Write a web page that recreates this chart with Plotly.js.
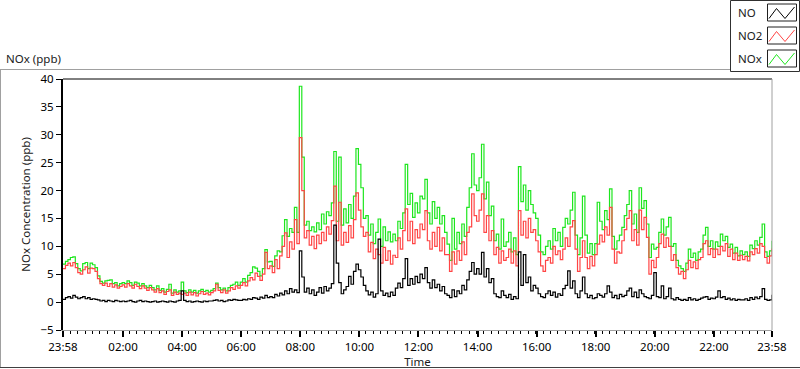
<!DOCTYPE html>
<html>
<head>
<meta charset="utf-8">
<script src="https://cdn.plot.ly/plotly-3.0.1.min.js"></script>
<style>html,body{margin:0;padding:0;background:#fff;}#chart{width:800px;height:369px;}</style>
</head>
<body>
<div id="chart"></div>
<script>
// ---- Data (5-minute samples, starting 23:58) ----
const START_DAY = '2024-01-01';
const NEXT_DAY = '2024-01-02';
const START_MIN = 23 * 60 + 58;   // 23:58
const STEP_MIN = 5;

const NO2 = [
  6.0, 6.6, 7.0, 6.5, 7.1, 6.2, 5.3, 5.0, 5.8, 6.3, 5.2, 6.1,
  6.0, 5.5, 4.2, 3.3, 3.0, 3.4, 2.8, 3.3, 2.7, 3.1, 2.5, 2.8,
  3.1, 2.7, 3.3, 2.9, 2.5, 3.2, 2.8, 2.4, 2.9, 2.5, 2.1, 2.6,
  2.2, 1.8, 2.4, 1.7, 2.0, 1.4, 1.9, 2.2, 1.2, 1.8, 1.4, 1.6,
  1.4, 1.6, 1.2, 1.8, 1.3, 1.7, 1.1, 1.5, 1.9, 1.4, 1.6, 1.3,
  1.7, 2.0, 3.2, 2.1, 1.7, 2.2, 1.6, 2.0, 2.6, 2.3, 2.9, 2.5,
  3.0, 3.5, 2.9, 3.8, 4.4, 4.0, 5.2, 4.6, 3.9, 5.0, 8.9, 6.0,
  6.5, 5.3, 7.6, 6.0, 8.3, 10.0, 12.4, 8.0, 10.8, 9.5, 14.8, 10.5,
  29.5, 20.0, 11.5, 12.8, 10.2, 11.8, 9.6, 12.0, 10.5, 12.5, 11.0, 13.5,
  12.2, 14.6, 20.8, 11.0, 17.9, 10.2, 12.5, 10.7, 13.7, 11.5, 14.8, 19.6,
  16.5, 13.5, 11.8, 12.5, 9.0, 10.7, 7.8, 9.5, 8.5, 7.0, 9.8, 7.5,
  9.2, 6.8, 8.4, 8.0, 11.5, 9.5, 12.8, 16.7, 11.0, 14.5, 10.5, 13.0,
  11.5, 14.0, 13.0, 16.4, 11.0, 9.5, 12.5, 10.0, 13.4, 9.2, 11.5, 8.5,
  8.5, 5.5, 9.0, 6.8, 9.2, 7.5, 10.8, 8.5, 12.5, 13.5, 19.4, 15.5,
  14.5, 16.5, 19.4, 12.5, 15.5, 11.0, 12.8, 8.5, 9.8, 7.0, 9.2, 7.5,
  8.0, 9.5, 7.0, 9.2, 6.5, 16.4, 12.0, 14.5, 11.5, 15.0, 12.5, 13.0,
  11.0, 9.0, 6.5, 5.5, 7.5, 8.0, 7.0, 10.0, 8.5, 9.2, 7.6, 9.5,
  11.5, 10.0, 13.5, 14.6, 9.5, 5.5, 8.0, 11.0, 8.0, 6.0, 8.2, 6.5,
  8.5, 10.4, 12.0, 10.8, 13.5, 12.0, 17.0, 9.5, 7.0, 9.0, 8.8, 11.0,
  13.0, 15.0, 16.4, 11.0, 13.0, 10.2, 16.5, 13.0, 15.2, 11.6, 5.0, 7.5,
  6.2, 8.0, 10.5, 12.2, 9.8, 11.5, 10.0, 7.5, 8.5, 6.2, 5.0, 5.5,
  4.2, 5.8, 7.5, 6.2, 7.2, 6.0, 7.6, 8.0, 10.5, 11.0, 8.5, 9.6,
  8.0, 9.5, 8.5, 10.0, 9.2, 10.5, 8.2, 9.5, 7.6, 8.8, 7.5, 8.4,
  7.6, 8.2, 7.4, 9.0, 8.5, 9.6, 8.8, 10.5, 10.0, 8.0, 7.0, 8.3, 9.6
];

const NOX = [
  6.8, 7.3, 7.6, 8.0, 8.1, 6.9, 6.0, 5.6, 6.9, 7.1, 6.0, 7.0,
  6.7, 6.2, 4.7, 3.7, 3.4, 3.8, 3.9, 4.0, 3.3, 3.5, 2.9, 3.3,
  3.5, 3.3, 3.8, 3.5, 3.0, 3.6, 3.4, 2.9, 3.3, 2.9, 2.6, 3.0,
  2.6, 2.2, 2.9, 2.1, 2.4, 1.8, 2.3, 3.2, 1.6, 2.2, 1.8, 2.0,
  3.6, 2.0, 1.7, 2.2, 1.8, 2.1, 1.6, 2.0, 2.3, 1.9, 2.1, 1.8,
  2.1, 2.4, 3.4, 2.6, 2.2, 2.5, 2.0, 2.6, 3.0, 3.2, 3.6, 3.0,
  3.6, 4.2, 3.6, 4.8, 5.3, 6.3, 6.1, 5.5, 4.7, 6.0, 9.4, 7.2,
  7.3, 6.4, 8.3, 9.2, 9.0, 11.9, 14.8, 11.8, 13.2, 12.5, 17.0, 12.5,
  38.7, 26.0, 13.8, 14.5, 12.8, 13.5, 12.6, 14.2, 13.0, 15.8, 14.0, 16.2,
  15.5, 17.8, 27.0, 14.5, 26.0, 13.8, 16.7, 14.2, 17.5, 15.0, 19.0, 27.5,
  24.7, 20.5, 15.0, 15.5, 12.0, 14.0, 10.5, 12.5, 14.9, 10.0, 13.5, 11.0,
  12.6, 10.8, 12.2, 11.0, 14.5, 13.2, 16.0, 24.7, 17.5, 19.5, 15.2, 17.8,
  16.0, 19.0, 18.5, 22.0, 16.0, 14.0, 18.0, 15.0, 17.0, 14.0, 15.5, 12.5,
  10.4, 7.5, 15.0, 9.5, 12.5, 10.5, 14.0, 11.8, 17.0, 20.5, 26.6, 21.0,
  20.0, 22.3, 28.3, 18.5, 21.5, 15.5, 17.2, 11.0, 12.2, 9.5, 14.9, 10.0,
  10.8, 12.5, 9.0, 11.5, 8.5, 24.3, 18.0, 21.0, 16.5, 20.0, 17.5, 16.0,
  15.0, 12.0, 9.0, 8.5, 10.0, 11.0, 9.5, 13.2, 11.0, 12.5, 10.0, 13.4,
  15.0, 14.0, 16.5, 19.7, 12.0, 8.5, 11.5, 19.0, 12.0, 8.8, 10.5, 8.5,
  10.5, 17.9, 14.5, 13.0, 16.4, 14.8, 20.3, 11.8, 9.5, 11.0, 12.0, 13.4,
  15.5, 17.5, 20.0, 14.0, 15.8, 12.5, 20.5, 16.8, 18.2, 14.0, 8.0, 10.4,
  9.5, 9.8, 12.5, 14.9, 12.0, 13.5, 15.2, 10.0, 10.5, 7.5, 6.5, 6.0,
  5.5, 7.0, 9.5, 8.0, 8.8, 7.5, 9.0, 9.5, 12.0, 13.4, 10.0, 11.0,
  9.5, 10.8, 10.0, 12.2, 11.0, 11.8, 9.8, 10.4, 8.8, 9.8, 8.3, 9.2,
  8.5, 9.0, 8.2, 10.2, 9.6, 11.0, 10.2, 11.6, 14.0, 9.0, 8.2, 9.2, 11.0
];

const NO = [
  0.5, 0.8, 1.0, 0.7, 1.2, 0.9, 0.6, 0.8, 1.0, 0.6, 0.8, 0.5,
  0.6, 0.5, 0.4, 0.2, 0.3, 0.1, 0.3, 0.2, 0.1, 0.3, 0.2, 0.1,
  0.2, 0.1, 0.2, 0.3, 0.1, 0.0, 0.2, 0.3, 0.1, 0.2, 0.1, 0.0,
  0.1, 0.2, 0.0, 0.1, 0.2, 0.1, 0.0, 0.2, 0.1, 0.0, 0.2, 0.3,
  2.0, 0.3, 0.1, 0.2, 0.0, 0.1, 0.2, 0.1, 0.0, 0.2, 0.1, 0.2,
  0.2, 0.3, 0.4, 0.2, 0.3, 0.1, 0.2, 0.4, 0.3, 0.5, 0.4, 0.3,
  0.3, 0.5, 0.4, 0.6, 0.5, 0.8, 0.7, 0.5, 0.9, 0.7, 1.2, 0.8,
  1.0, 0.8, 1.4, 1.1, 1.6, 1.3, 2.0, 1.5, 2.4, 1.8, 2.2, 1.7,
  9.2, 4.5, 1.8, 2.5, 1.5, 2.2, 1.2, 1.8, 2.6, 1.6, 2.8, 2.0,
  2.5, 3.3, 13.8, 7.0, 3.5, 1.5, 2.2, 2.8, 4.6, 3.2, 5.5, 6.8,
  5.8, 4.5, 3.0, 2.0, 1.3, 1.8, 0.9, 1.5, 11.3, 2.0, 1.2, 1.6,
  1.0, 1.8, 1.2, 2.5, 3.4, 2.6, 4.2, 7.8, 3.0, 4.2, 3.2, 4.6,
  3.5, 5.0, 4.2, 6.2, 3.5, 2.5, 4.0, 2.6, 3.2, 2.0, 2.8, 1.5,
  1.2, 0.8, 2.2, 1.0, 2.0, 1.5, 3.0, 2.2, 4.0, 5.5, 7.1, 5.0,
  6.0, 5.0, 8.9, 4.5, 6.0, 3.5, 4.2, 1.5, 1.0, 0.8, 2.0, 1.2,
  0.8, 1.4, 0.5, 1.0, 0.6, 9.0, 3.0, 8.5, 3.5, 4.5, 2.0, 3.0,
  2.5, 1.5, 1.0, 0.8, 1.5, 2.0, 1.2, 1.8, 0.9, 1.5, 1.2, 2.4,
  3.0, 5.6, 2.5, 3.8, 1.5, 0.8, 2.0, 4.5, 1.5, 0.8, 1.2, 0.6,
  0.8, 1.5, 1.2, 0.9, 1.5, 2.9, 1.8, 0.8, 1.2, 0.6, 1.4, 1.0,
  1.2, 2.0, 2.5, 1.0, 1.8, 0.8, 2.2, 1.5, 1.0, 0.8, 0.6, 1.2,
  5.3, 1.0, 0.8, 2.9, 0.6, 1.0, 2.5, 0.6, 0.4, 0.8, 0.5, 0.3,
  0.5, 0.3, 0.8, 0.4, 0.6, 0.3, 0.5, 0.7, 0.9, 1.0, 0.5, 0.7,
  0.6, 0.9, 2.0, 0.8, 1.0, 0.5, 0.7, 0.4, 0.6, 0.3, 0.5, 0.4,
  0.4, 0.6, 0.3, 0.8, 0.5, 0.9, 0.6, 1.0, 2.4, 0.5, 0.3, 0.4, 1.3
];

const TICK_TEXT = ['23:58', '02:00', '04:00', '06:00', '08:00', '10:00', '12:00',
                   '14:00', '16:00', '18:00', '20:00', '22:00', '23:58'];
const SERIES_NAMES = ['NO', 'NO2', 'NOx'];
const SERIES_COLORS = ['#000000', '#FF4545', '#1EE61E'];

// ---- helpers ----
function pad(n) { return (n < 10 ? '0' : '') + n; }
function stamp(totalMin) {          // minutes from midnight of START_DAY
  const day = totalMin >= 1440 ? NEXT_DAY : START_DAY;
  const m = totalMin % 1440;
  return day + ' ' + pad(Math.floor(m / 60)) + ':' + pad(m % 60);
}
const X = NO.map((_, i) => stamp(START_MIN + i * STEP_MIN));

const tickvals = TICK_TEXT.map((t, k) => (k === 0 ? START_DAY : NEXT_DAY) + ' ' + t);
const minorVals = [];
for (let k = 1; k < 96; k++) minorVals.push(stamp(START_MIN + k * 15));

// pixel -> paper conversion (plot area: x 63..772, y 79..330)
const L = 63, R = 772, T = 79, B = 330;
const px = x => (x - L) / (R - L);
const py = y => (B - y) / (B - T);

const FONT = 'Noto Sans, DejaVu Sans, sans-serif';

const traces = [
  {x: X, y: NOX, name: 'NOx', type: 'scatter', mode: 'lines',
   line: {color: SERIES_COLORS[2], width: 1.2, shape: 'hv'}, showlegend: false},
  {x: X, y: NO2, name: 'NO2', type: 'scatter', mode: 'lines',
   line: {color: SERIES_COLORS[1], width: 1.2, shape: 'hv'}, showlegend: false},
  {x: X, y: NO, name: 'NO', type: 'scatter', mode: 'lines',
   line: {color: SERIES_COLORS[0], width: 1.2, shape: 'hv'}, showlegend: false}
];

const shapes = [];
const annotations = [];
function hline(x0, x1, y, color, w) {
  shapes.push({type: 'line', xref: 'paper', yref: 'paper', x0: px(x0), x1: px(x1), y0: py(y), y1: py(y),
               line: {color: color, width: w || 1}});
}
function vline(x, y0, y1, color, w) {
  shapes.push({type: 'line', xref: 'paper', yref: 'paper', x0: px(x), x1: px(x), y0: py(y0), y1: py(y1),
               line: {color: color, width: w || 1}});
}
// outer frame
hline(0, 731, 69.5, '#A0A0A0');
vline(0.5, 69, 367, '#A0A0A0');
hline(0, 800, 367.5, '#404040');
// plot border: top black, right gray
hline(L, R, T, '#000000');
vline(R, T, B, '#A0A0A0');

// legend box
shapes.push({type: 'rect', xref: 'paper', yref: 'paper', x0: px(730.5), x1: px(799.5), y0: py(0.5), y1: py(71.5),
             line: {color: '#303030', width: 1}, fillcolor: '#FFFFFF'});
const legendRows = [12.5, 35.5, 58.5];
SERIES_NAMES.forEach((name, k) => {
  const cy = legendRows[k];
  annotations.push({xref: 'paper', yref: 'paper', x: px(736), y: py(cy), xanchor: 'left', yanchor: 'middle',
                    text: name, showarrow: false, font: {family: FONT, size: 11.5, color: '#1a1a1a'}});
  shapes.push({type: 'rect', xref: 'paper', yref: 'paper', x0: px(767.5), x1: px(796.5), y0: py(cy - 8.5), y1: py(cy + 8.5),
               line: {color: '#202020', width: 1}, fillcolor: '#FFFFFF'});
  const pts = [[769, cy + 6], [776.5, cy - 4], [785, cy + 6], [794.5, cy - 5.5]];
  const path = pts.map((p, j) => (j ? 'L' : 'M') + px(p[0]) + ',' + py(p[1])).join(' ');
  shapes.push({type: 'path', xref: 'paper', yref: 'paper', path: path,
               line: {color: SERIES_COLORS[k], width: 1}});
});

annotations.push({xref: 'paper', yref: 'paper', x: px(4), y: py(58), xanchor: 'left', yanchor: 'middle',
                  text: 'NOx (ppb)', showarrow: false, font: {family: FONT, size: 11.5, color: '#1a1a1a'}});

const layout = {
  width: 800, height: 369,
  margin: {l: L, r: 800 - R, t: T, b: 369 - B, pad: 0},
  paper_bgcolor: '#FFFFFF', plot_bgcolor: '#FFFFFF',
  font: {family: FONT, size: 11.5, color: '#000000'},
  showlegend: false,
  xaxis: {
    type: 'date',
    range: [tickvals[0], tickvals[tickvals.length - 1]],
    tickmode: 'array', tickvals: tickvals, ticktext: TICK_TEXT,
    ticks: 'outside', ticklen: 6, tickwidth: 2, tickcolor: '#000000',
    minor: {tickmode: 'array', tickvals: minorVals, ticks: 'outside', ticklen: 3, tickwidth: 1, tickcolor: '#000000', showgrid: false},
    showgrid: false, zeroline: false,
    showline: true, linecolor: '#A0A0A0', linewidth: 1,
    tickfont: {family: FONT, size: 11.5, color: '#000000'},
    title: {text: 'Time', font: {family: FONT, size: 11.5, color: '#1a1a1a'}, standoff: 2}
  },
  yaxis: {
    range: [-5, 40], tickmode: 'linear', tick0: -5, dtick: 5,
    ticks: 'outside', ticklen: 5, tickwidth: 1, tickcolor: '#000000',
    showgrid: false, zeroline: false,
    showline: true, linecolor: '#000000', linewidth: 2,
    tickfont: {family: FONT, size: 11.5, color: '#000000'},
    title: {text: 'NOx Concentration (ppb)', font: {family: FONT, size: 11.5, color: '#1a1a1a'}, standoff: 8}
  },
  shapes: shapes,
  annotations: annotations
};

Plotly.newPlot('chart', traces, layout, {staticPlot: true, displayModeBar: false});
</script>
</body>
</html>
